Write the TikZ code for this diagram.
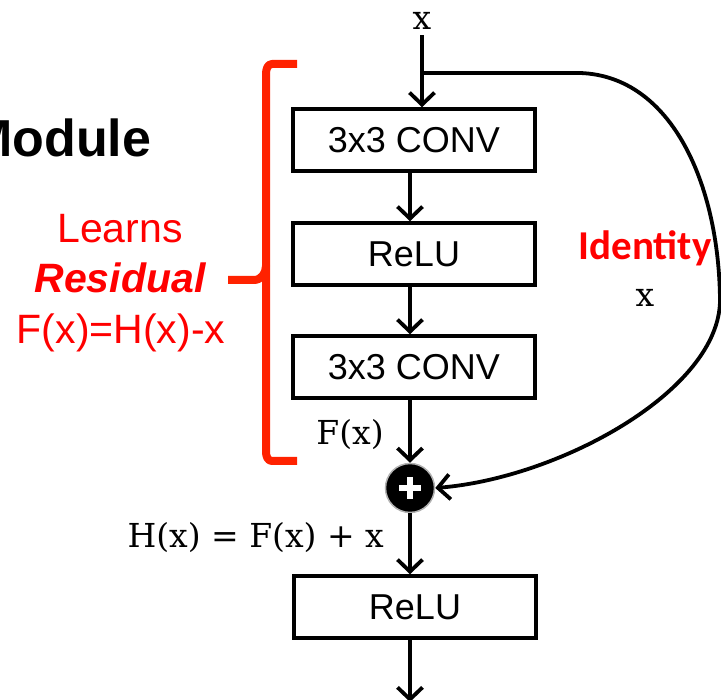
\documentclass[tikz,border=0pt]{standalone}
\usepackage{fontspec}
\setmainfont{DejaVu Serif}
\newfontfamily\arial{Liberation Sans}
\newfontfamily\calib{Carlito}
\usetikzlibrary{arrows.meta}
\definecolor{bred}{RGB}{255,34,0}
\definecolor{tred}{RGB}{255,0,0}
\begin{document}
\begin{tikzpicture}[x=1pt,y=-1pt,
  box/.style={draw, line width=3.5pt, minimum width=242pt, minimum height=62pt, inner sep=0pt, font=\arial\fontsize{36}{40}\selectfont},
  arr/.style={line width=3.8pt, -{Straight Barb[length=12pt,width=25pt]}},
  serif/.style={font=\fontsize{33}{37}\selectfont, inner sep=0pt},
  redtxt/.style={text=tred, font=\arial\fontsize{41}{45}\selectfont, inner sep=0pt}]
\useasboundingbox (0,0) rectangle (721,700);
\clip (0,0) rectangle (721,700);
% title fragment (cut at the left edge, as in the reference)
\node[anchor=base west, inner sep=0pt, font=\arial\bfseries\fontsize{52}{56}\selectfont] (title) at (-31,157) {Module};
% input
\node[serif, anchor=base] (xin) at (422,30) {x};
\node[box] (b1) at (414,140) {3x3 CONV};
\node[box] (b2) at (414,254) {ReLU};
\node[box] (b3) at (414,367) {3x3 CONV};
\node[circle, fill=black, draw=gray!60, line width=1.5pt, minimum size=49pt, inner sep=0pt] (pl) at (410,488) {};
\draw[white, line width=5.5pt] (pl.center) ++(-11,0) -- ++(22,0);
\draw[white, line width=5.5pt] (pl.center) ++(0,-11) -- ++(0,22);
\node[box] (b4) at (415,607) {ReLU};
\coordinate (bot) at (410,702);
% main arrows
\draw[arr] (xin.south) ++(0,5) coordinate (xs) -- (xs |- b1.north);
\draw[arr] (b1.south -| pl.center) -- (b2.north -| pl.center);
\draw[arr] (b2.south -| pl.center) -- (b3.north -| pl.center);
\draw[arr] (b3.south -| pl.center) -- (pl.north);
\draw[arr] (pl.south) -- (b4.north -| pl.center);
\draw[arr] (b4.south -| pl.center) -- (bot);
% identity shortcut
\coordinate (split) at (422,73);
\draw[arr] (split) -- (580,73) .. controls (672,76) and (719,185) .. (720,300)
   .. controls (720,390) and (560,478) .. (pl.east);
% labels
\node[serif, anchor=base] (fx) at (350,445) {F(x)};
\node[serif, anchor=base east] (hx) at (384,548) {H(x) = F(x) + x};
\node[anchor=base, inner sep=0pt, text=tred, font=\calib\bfseries\fontsize{41}{44}\selectfont] (ident) at (645,260) {Identity};
\node[serif, anchor=base] (ix) at (645,307) {x};
% red bracket
\draw[bred, line width=8pt, line join=round] (297,64) -- (272,64) to[out=180,in=90] (266,74) -- (266,266)
  to[out=-90,in=0] (254,280) -- (228,280);
\draw[bred, line width=8pt, line join=round] (266,266) to[out=-90,in=90] (266,282) -- (266,452) to[out=-90,in=180] (272,461) -- (297,461);
\node[redtxt, anchor=base] (l1) at (120,243) {Learns};
\node[redtxt, anchor=base, font=\arial\bfseries\itshape\fontsize{41}{45}\selectfont] (l2) at (120,293) {Residual};
\node[redtxt, anchor=base] (l3) at (121,344) {F(x)=H(x)-x};
\end{tikzpicture}
\end{document}
